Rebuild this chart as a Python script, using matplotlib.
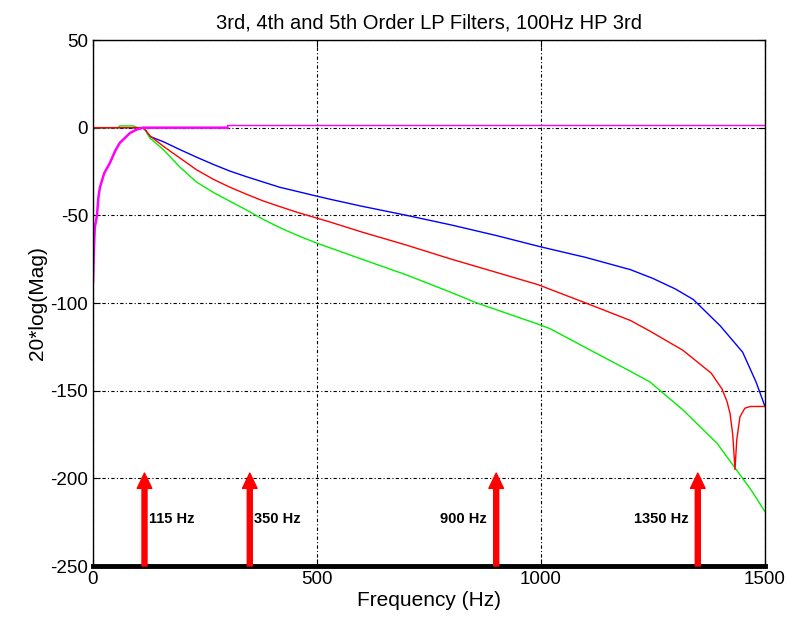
import matplotlib
matplotlib.use("Agg")
import matplotlib.pyplot as plt
import numpy as np

plt.rcParams['font.family'] = ['Liberation Sans', 'DejaVu Sans']
plt.rcParams['axes.unicode_minus'] = False

# 3rd order LP (blue)
f_lp3 = [0, 60, 90, 110, 116, 127, 157, 194, 231, 269, 306, 343, 380, 417, 455, 492, 529,
         600, 700, 800, 900, 1000, 1100, 1200, 1250, 1300, 1340, 1400, 1450, 1480, 1500]
db_lp3 = [0, 0, 0, 0, -1, -5, -8, -12.5, -16.8, -21, -24.8, -28, -31, -34, -36.3, -38.6, -40.8,
          -44.8, -50, -55.5, -61.5, -68, -74, -81, -86, -92, -98, -113, -128, -145, -159]

# 4th order LP (red)
f_lp4 = [0, 60, 90, 110, 116, 127, 157, 194, 231, 269, 306, 343, 380, 417, 455, 492, 529,
         600, 700, 800, 900, 993, 1100, 1200, 1243, 1317, 1380, 1404, 1415, 1422, 1428,
         1433, 1437, 1444, 1455, 1467, 1500]
db_lp4 = [0, 0, 0, 0, -1, -4.6, -10.6, -17.3, -24, -29.5, -34, -38, -41.8, -45, -48.2,
          -51, -53.8, -59.5, -67, -75, -82.5, -89.5, -100, -110, -116, -127, -140, -149,
          -156, -163, -175, -195, -178, -165, -160, -159, -159]

# 5th order LP (green)
f_lp5 = [0, 55, 60, 90, 100, 110, 116, 127, 157, 194, 231, 269, 306, 343, 380, 417, 455,
         496, 600, 700, 800, 857, 993, 1020, 1100, 1200, 1243, 1317, 1393, 1433, 1470, 1500]
db_lp5 = [0, 0, 1, 1, 0, 0, -1, -5.9, -12.5, -22.5, -31, -37, -42, -47, -52.3, -57, -61.3,
          -65.5, -75, -84, -94, -100, -112, -114.6, -125.5, -139, -145, -161, -180, -194,
          -207, -219]

# 100 Hz 3rd order HP (magenta)
f_hp = [0, 2, 4, 9, 12, 15.6, 25, 38, 50, 60, 83, 98, 112, 300]
db_hp = [-88, -70, -57, -50, -40, -34, -26, -20, -13, -8.6, -3, -1, 0, 0]
f_hp_tail = [300, 300, 1500]
db_hp_tail = [0, 1.5, 1.5]

marker_freqs = [115, 350, 900, 1350]
marker_labels = ["115 Hz", "350 Hz", "900 Hz", "1350 Hz"]

fig = plt.figure(figsize=(7.92, 6.26), dpi=100)
ax = fig.add_axes([0.1174, 0.0958, 0.8485, 0.8403])

ax.plot(f_lp3, db_lp3, color="blue", lw=1.0)
ax.plot(f_lp5, db_lp5, color="#00ee00", lw=1.0)
ax.plot(f_lp4, db_lp4, color="red", lw=1.0)
ax.plot(f_hp, db_hp, color="magenta", lw=1.8)
ax.plot(f_hp_tail, db_hp_tail, color="magenta", lw=1.0)

# red arrows marking the frequencies of interest
for f, lab in zip(marker_freqs, marker_labels):
    ax.annotate("", xy=(f, -197), xytext=(f, -250),
                arrowprops=dict(color="red", width=3.6, headwidth=10.5,
                                headlength=11, shrink=0))
    if f < 500:
        ax.text(f + 10, -223, lab, ha="left", va="center", fontsize=10.5, fontweight="bold")
    else:
        ax.text(f - 20, -223, lab, ha="right", va="center", fontsize=10.5, fontweight="bold")

ax.set_xlim(0, 1500)
ax.set_ylim(-250, 50)
ax.set_xticks([0, 500, 1000, 1500])
ax.set_yticks(np.arange(-250, 51, 50))
ax.grid(True, color="black", linestyle=(0, (3, 2, 1, 2)), linewidth=0.8)
ax.tick_params(direction="in", top=True, right=True, length=5, labelsize=13.5)
for s in ax.spines.values():
    s.set_linewidth(1.0)
ax.spines["bottom"].set_linewidth(3.5)

ax.set_title("3rd, 4th and 5th Order LP Filters, 100Hz HP 3rd", fontsize=14.5, pad=8)
ax.set_xlabel("Frequency (Hz)", fontsize=15, labelpad=2)
ax.set_ylabel("20*log(Mag)", fontsize=15, labelpad=2)

fig.savefig("out.png", dpi=100)
